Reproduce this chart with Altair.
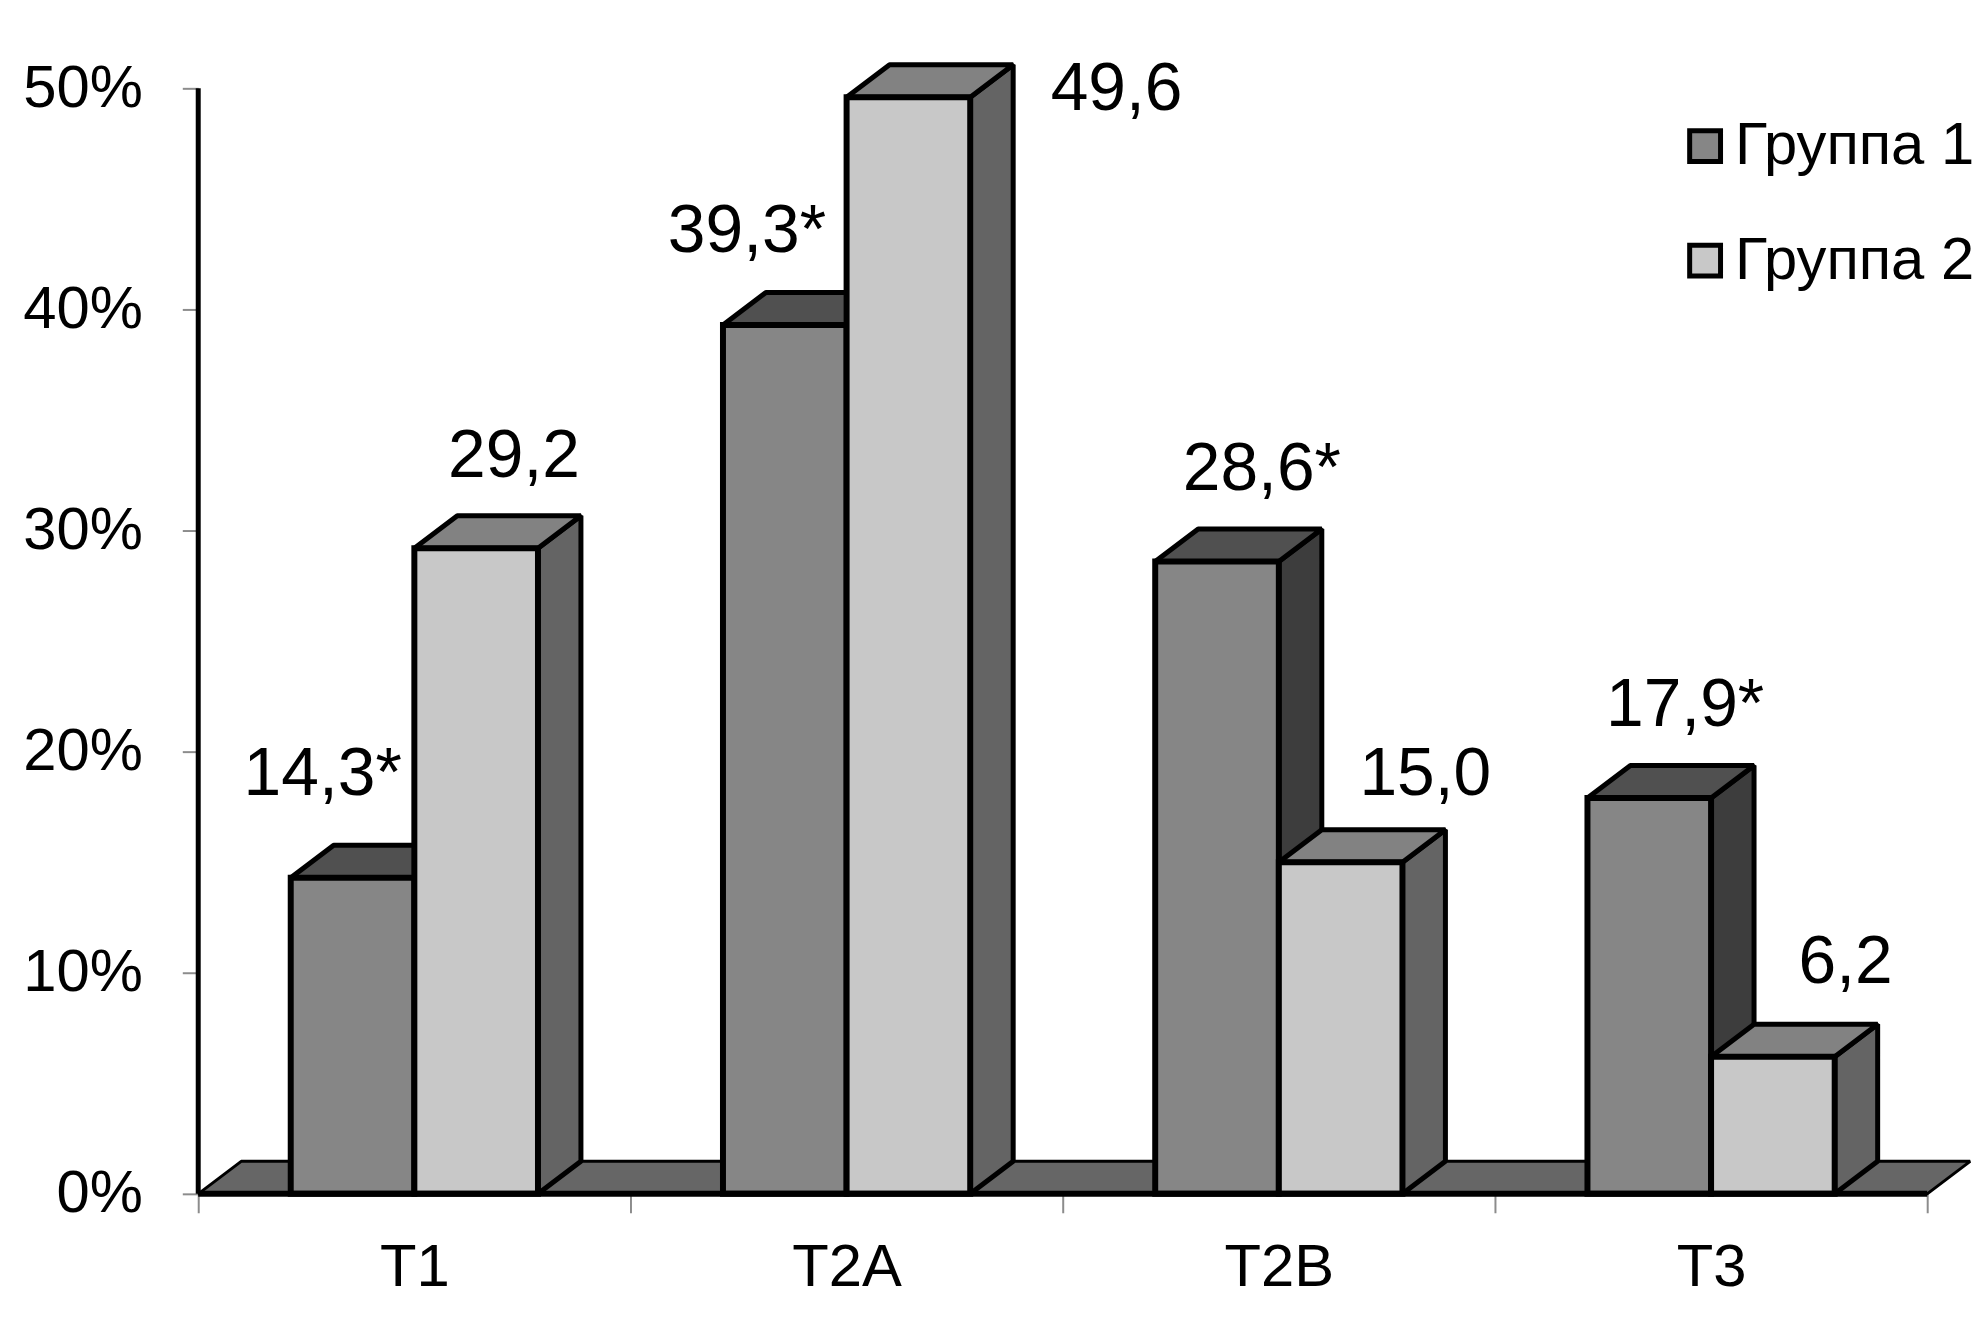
import altair as alt
import pandas as pd

categories = ["T1", "T2A", "T2B", "T3"]
group_names = ["Группа 1", "Группа 2"]
group1 = [14.3, 39.3, 28.6, 17.9]
group2 = [29.2, 49.6, 15.0, 6.2]
label1 = ["14,3*", "39,3*", "28,6*", "17,9*"]
label2 = ["29,2", "49,6", "15,0", "6,2"]
y_ticks = [0, 10, 20, 30, 40, 50]

# layout
PX_X, PX_Y = 434.0, 22.2           # pixels per category / per percent
BAR_L, BAR_W = 0.214, 0.286        # bar start / width in category units
DX, DY = 0.0994, 1.47              # depth of the 3-D projection
FONT = "Liberation Sans"
W, H = 1785, 1152
LBL1 = [(-30, 103), (-38, 93), (45, 92), (36, 92.5)]     # label centre relative to bar top centre (px)
LBL2 = [(38, 92), (209, 7), (85, 87), (73, 94)]

rows = []
for i, c in enumerate(categories):
    for g, (vals, lbls, off) in enumerate(((group1, label1, LBL1), (group2, label2, LBL2))):
        x0 = i + BAR_L + g * BAR_W
        rows.append(dict(cat=c, group=group_names[g], g=g, x0=x0, x1=x0 + BAR_W, v=vals[i], zero=0,
                         label=lbls[i],
                         lx=x0 + BAR_W / 2 + off[i][0] / PX_X,
                         ly=vals[i] + off[i][1] / PX_Y))
bars = pd.DataFrame(rows)


def side_rows(g):
    out = []
    for r in bars[bars.g == g].itertuples():
        out.append(dict(id=r.cat, x=r.x1, lo=0, hi=r.v))
        out.append(dict(id=r.cat, x=r.x1 + DX, lo=DY, hi=r.v + DY))
    return pd.DataFrame(out)


def top_rows(g):
    out = []
    for r in bars[bars.g == g].itertuples():
        out.append(dict(id=r.cat, x=r.x0, lo=r.v, hi=r.v))
        out.append(dict(id=r.cat, x=r.x0 + DX, lo=r.v, hi=r.v + DY))
        out.append(dict(id=r.cat, x=r.x1, lo=r.v, hi=r.v + DY))
        out.append(dict(id=r.cat, x=r.x1 + DX, lo=r.v + DY, hi=r.v + DY))
    return pd.DataFrame(out)


n = len(categories)
floor = pd.DataFrame([
    dict(id="f", x=0, lo=0, hi=0),
    dict(id="f", x=DX, lo=0, hi=DY),
    dict(id="f", x=n, lo=0, hi=DY),
    dict(id="f", x=n + DX, lo=DY, hi=DY),
])

x_scale = alt.Scale(domain=[0, W / PX_X], nice=False, zero=False)
y_scale = alt.Scale(domain=[0, H / PX_Y], nice=False)

x_vals = [k / 2 for k in range(2 * n + 1)]
cat_expr = "datum.value % 1 == 0 ? '' : ['T1','T2A','T2B','T3'][floor(datum.value)]"
x_axis = alt.Axis(values=x_vals, labelExpr=cat_expr, title=None, domain=False, grid=False,
                  tickSize=19, tickWidth=2, tickColor="#8c8c8c",
                  tickOpacity=alt.expr("datum.value % 1 == 0 ? 1 : 0"),
                  labelFont=FONT, labelFontSize=60, labelColor="black", labelPadding=26,
                  labelAngle=0, labelFlush=False, labelOverlap=False)
y_axis = alt.Axis(values=y_ticks, labelExpr="datum.value + '%'", title=None, domain=False, grid=False,
                  tickSize=16, tickWidth=2, tickColor="#8c8c8c",
                  labelFont=FONT, labelFontSize=60, labelColor="black", labelPadding=40,
                  labelOverlap=False)


def poly(df, fill, sw=5):
    return alt.Chart(df).mark_area(fill=fill, stroke="black", strokeWidth=sw, strokeJoin="bevel",
                                   interpolate="linear").encode(
        x=alt.X("x:Q", scale=x_scale, axis=x_axis),
        y=alt.Y("lo:Q", scale=y_scale, axis=y_axis),
        y2="hi:Q",
        detail="id:N",
    )


def front(g):
    return alt.Chart(bars[bars.g == g]).mark_bar(stroke="black", strokeWidth=6).encode(
        x=alt.X("x0:Q", scale=x_scale),
        x2="x1:Q",
        y=alt.Y("zero:Q", scale=y_scale),
        y2="v:Q",
        fill=alt.Fill("group:N", scale=alt.Scale(domain=group_names, range=["#868686", "#c8c8c8"]),
                      legend=alt.Legend(title=None, orient="none", legendX=1483, legendY=70,
                                        symbolType="square", symbolSize=961, symbolStrokeColor="black",
                                        symbolStrokeWidth=5, labelFont=FONT, labelFontSize=60,
                                        labelColor="black", labelLimit=400, labelOffset=0,
                                        rowPadding=55, padding=0)),
    )


y_line = alt.Chart(pd.DataFrame({"x": [0], "a": [0], "b": [50]})).mark_rule(color="black", strokeWidth=5).encode(
    x=alt.X("x:Q", scale=x_scale), y=alt.Y("a:Q", scale=y_scale), y2="b:Q")
x_line = alt.Chart(pd.DataFrame({"a": [0], "b": [n], "y": [0]})).mark_rule(color="black", strokeWidth=6).encode(
    x=alt.X("a:Q", scale=x_scale), x2="b:Q", y=alt.Y("y:Q", scale=y_scale))
labels = alt.Chart(bars).mark_text(font=FONT, fontSize=68, color="black", baseline="middle", align="center").encode(
    x=alt.X("lx:Q", scale=x_scale), y=alt.Y("ly:Q", scale=y_scale), text="label:N")

chart = alt.layer(
    poly(floor, "#666666", 3),
    poly(side_rows(0), "#3d3d3d"),
    poly(top_rows(0), "#505050"),
    front(0),
    poly(side_rows(1), "#646464"),
    poly(top_rows(1), "#828282"),
    front(1),
    y_line,
    x_line,
    labels,
).properties(
    width=W, height=H,
    autosize=alt.AutoSizeParams(type="none"),
    padding={"left": 191, "top": 36, "right": 0, "bottom": 120},
    background="white",
).configure_view(stroke=None)

chart.save("out.html", embed_options={"renderer": "svg", "actions": False})
